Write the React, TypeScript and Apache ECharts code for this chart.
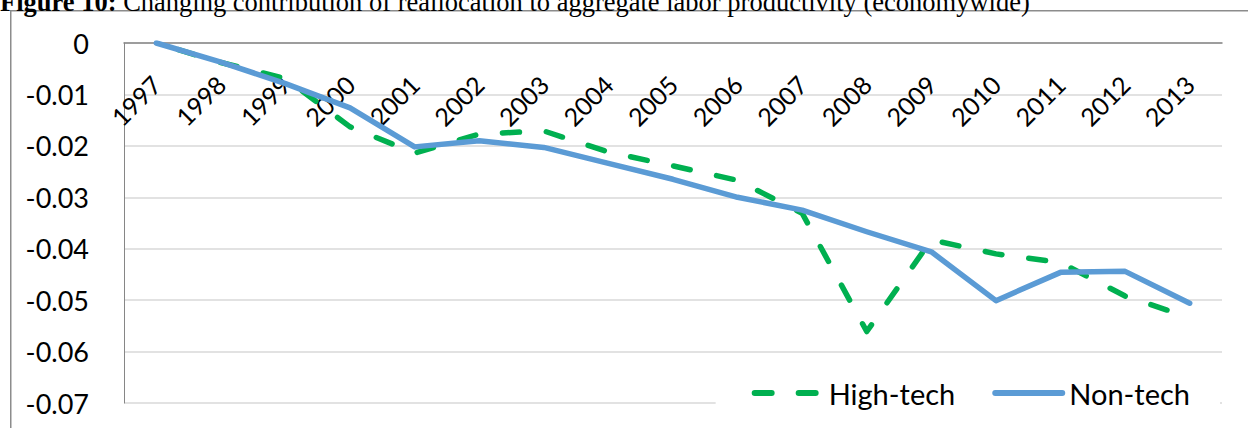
import React, { useEffect, useRef } from "react";
import * as echarts from "echarts";

const years = ["1997","1998","1999","2000","2001","2002","2003","2004","2005","2006","2007","2008","2009","2010","2011","2012","2013"];
const highTech = [0, -0.0038, -0.0069, -0.0163, -0.0214, -0.0177, -0.0171, -0.0212, -0.0239, -0.0267, -0.0331, -0.0561, -0.0383, -0.041, -0.0427, -0.0492, -0.0534];
const nonTech = [0, -0.0037, -0.0079, -0.0126, -0.0202, -0.019, -0.0203, -0.0234, -0.0265, -0.030, -0.0325, -0.0367, -0.0406, -0.0501, -0.0446, -0.0444, -0.0506];
const seriesNames = ["High-tech", "Non-tech"];
const titleBold = "Figure 10:";
const titleRest = " Changing contribution of reallocation to aggregate labor productivity (economywide)";

export default function App() {
  const ref = useRef<HTMLDivElement>(null);
  useEffect(() => {
    document.body.style.margin = "0";
    const chart = echarts.init(ref.current!, undefined, { renderer: "svg" });
    const font = "Lato";
    chart.setOption({
      animation: false,
      backgroundColor: "#fff",
      graphic: [
        {
          type: "rect",
          silent: true,
          z: -1,
          shape: { x: 10.75, y: 10.75, width: 1300, height: 500 },
          style: { fill: "none", stroke: "#8c8c8c", lineWidth: 1.5 },
        },
        {
          type: "text",
          silent: true,
          x: 0,
          y: 1.5,
          style: {
            text: "{b|" + titleBold + "}{r|" + titleRest + "}",
            verticalAlign: "middle",
            align: "left",
            fill: "#000",
            rich: {
              b: { fontFamily: "Liberation Serif", fontWeight: "bold", fontSize: 26.5, fill: "#000" },
              r: { fontFamily: "Liberation Serif", fontSize: 26.5, fill: "#000" },
            },
          },
        },
      ],
      grid: { left: 124, right: 26, top: 43, bottom: 25, containLabel: false, outerBoundsMode: "none" },
      legend: {
        data: seriesNames,
        right: 28,
        top: 369,
        padding: [8, 30, 8, 36],
        backgroundColor: "#fff",
        itemWidth: 67,
        itemHeight: 14,
        itemGap: 37,
        itemStyle: { opacity: 0, borderWidth: 0 },
        lineStyle: { width: 6, dashOffset: 0 },
        textStyle: { fontFamily: font, fontSize: 29, color: "#000", lineHeight: 32, padding: [0, 0, 0, 2] },
      },
      xAxis: {
        type: "category",
        data: years,
        position: "top",
        boundaryGap: true,
        axisLine: { onZero: false, lineStyle: { color: "#868686", width: 1.5 } },
        axisTick: { show: false },
        axisLabel: { inside: true, rotate: -45, margin: 37, fontFamily: font, fontSize: 25, color: "#000" },
        splitLine: { show: false },
      },
      yAxis: {
        type: "value",
        min: -0.07,
        max: 0,
        interval: 0.01,
        axisLine: { show: true, lineStyle: { color: "#868686", width: 1 } },
        axisTick: { show: false },
        axisLabel: { margin: 35, fontFamily: font, fontSize: 27, color: "#000" },
        splitLine: { lineStyle: { color: "#d9d9d9", width: 1.5 } },
      },
      series: [
        {
          name: seriesNames[0],
          type: "line",
          data: highTech,
          symbol: "none",
          itemStyle: { color: "#00B050" },
          lineStyle: { color: "#00B050", width: 5.5, type: [17, 27], dashOffset: 20.5, cap: "round", join: "round" },
        },
        {
          name: seriesNames[1],
          type: "line",
          data: nonTech,
          symbol: "none",
          itemStyle: { color: "#5B9BD5" },
          lineStyle: { color: "#5B9BD5", width: 5.5, cap: "round", join: "round" },
        },
      ],
    });
    return () => chart.dispose();
  }, []);
  return <div ref={ref} style={{ position: "absolute", left: 0, top: 0, width: 1248, height: 428 }} />;
}
